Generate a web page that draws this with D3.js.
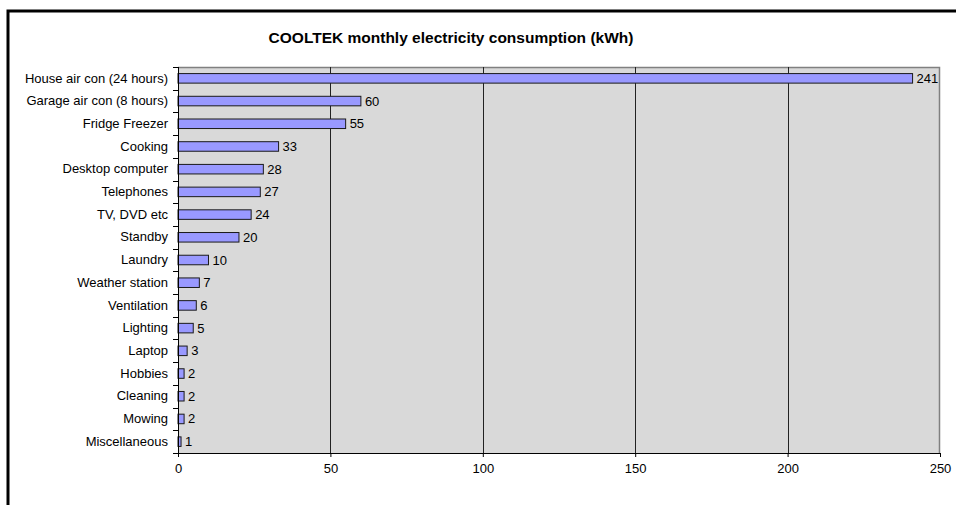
<!DOCTYPE html>
<html>
<head>
<meta charset="utf-8">
<script src="https://cdn.jsdelivr.net/npm/d3@7/dist/d3.min.js"></script>
<style>
  html, body { margin: 0; padding: 0; background: #fff; }
  svg { display: block; }
  text { font-family: Arial, "Liberation Sans", sans-serif; }
</style>
</head>
<body>
<svg id="chart" width="956" height="505"></svg>
<script>
// Monthly consumption per appliance (kWh)
const categories = [
  "House air con (24 hours)", "Garage air con (8 hours)", "Fridge Freezer",
  "Cooking", "Desktop computer", "Telephones", "TV, DVD etc", "Standby",
  "Laundry", "Weather station", "Ventilation", "Lighting", "Laptop",
  "Hobbies", "Cleaning", "Mowing", "Miscellaneous"
];
const values = [241, 60, 55, 33, 28, 27, 24, 20, 10, 7, 6, 5, 3, 2, 2, 2, 1];
const xTicks = [0, 50, 100, 150, 200, 250];
const title = "COOLTEK monthly electricity consumption (kWh)";

const FONT = "Arial, 'Liberation Sans', sans-serif";
const svg = d3.select("#chart");

// Outer frame of the chart object
svg.append("rect")
  .attr("x", 8).attr("y", 11)
  .attr("width", 960).attr("height", 520)
  .attr("fill", "#fff")
  .attr("stroke", "#000").attr("stroke-width", 3);

const plot = { left: 178, right: 940, top: 67, bottom: 453 };

const x = d3.scaleLinear().domain([0, 250]).range([plot.left, plot.right]);
const y = d3.scaleBand().domain(categories).range([plot.top, plot.bottom]).paddingInner(0.58).paddingOuter(0.29);
const yBand = d3.scaleBand().domain(categories).range([plot.top, plot.bottom]);

// Plot area background
svg.append("rect")
  .attr("x", plot.left).attr("y", plot.top)
  .attr("width", plot.right - plot.left).attr("height", plot.bottom - plot.top)
  .attr("fill", "#d9d9d9");

// Top and right edges of the plot area
svg.append("path")
  .attr("d", `M${plot.left},${plot.top + 0.5}H${plot.right - 0.5}V${plot.bottom}`)
  .attr("fill", "none").attr("stroke", "#808080").attr("stroke-width", 1.5);

// Vertical gridlines
svg.append("g")
  .selectAll("line")
  .data(xTicks.filter(t => t > 0 && t < 250))
  .join("line")
  .attr("x1", d => Math.round(x(d)) + 0.5).attr("x2", d => Math.round(x(d)) + 0.5)
  .attr("y1", plot.top).attr("y2", plot.bottom)
  .attr("stroke", "#222").attr("stroke-width", 1);

// Bars
svg.append("g")
  .selectAll("rect")
  .data(values)
  .join("rect")
  .attr("x", x(0))
  .attr("y", (d, i) => y(categories[i]))
  .attr("width", d => x(d) - x(0))
  .attr("height", y.bandwidth())
  .attr("fill", "#9999ff")
  .attr("stroke", "#1a1a1a").attr("stroke-width", 1);

// Value labels
svg.append("g")
  .selectAll("text")
  .data(values)
  .join("text")
  .attr("x", d => x(d) + 4)
  .attr("y", (d, i) => yBand(categories[i]) + yBand.bandwidth() / 2)
  .attr("dy", "0.35em")
  .attr("font-size", 13)
  .attr("fill", "#000")
  .text(d => d);

// Category axis
const yAxis = d3.axisLeft(yBand).tickSize(0).tickPadding(10);
const gy = svg.append("g").attr("transform", `translate(${plot.left},0)`).call(yAxis);
gy.select(".domain").remove();
gy.selectAll("text").attr("font-size", 13).attr("fill", "#000").attr("font-family", FONT);

// Tick marks between categories
const boundaries = categories.map(c => yBand(c)).concat([plot.bottom]);
svg.append("g")
  .selectAll("line")
  .data(boundaries)
  .join("line")
  .attr("x1", plot.left - 5).attr("x2", plot.left)
  .attr("y1", d => Math.round(d) + 0.5).attr("y2", d => Math.round(d) + 0.5)
  .attr("stroke", "#000");

svg.append("line")
  .attr("x1", plot.left + 0.5).attr("x2", plot.left + 0.5)
  .attr("y1", plot.top).attr("y2", plot.bottom)
  .attr("stroke", "#000");

// Value axis
const xAxis = d3.axisBottom(x).tickValues(xTicks).tickSize(4).tickPadding(7).tickSizeOuter(0);
const gx = svg.append("g").attr("transform", `translate(0,${plot.bottom})`).call(xAxis);
gx.select(".domain").attr("stroke", "#000");
gx.selectAll(".tick line").attr("stroke", "#000");
gx.selectAll("text").attr("font-size", 13).attr("fill", "#000").attr("font-family", FONT);

// Title
svg.append("text")
  .attr("x", 451).attr("y", 43)
  .attr("text-anchor", "middle")
  .attr("font-size", 15.5).attr("font-weight", "bold")
  .attr("fill", "#000")
  .text(title);
</script>
</body>
</html>
